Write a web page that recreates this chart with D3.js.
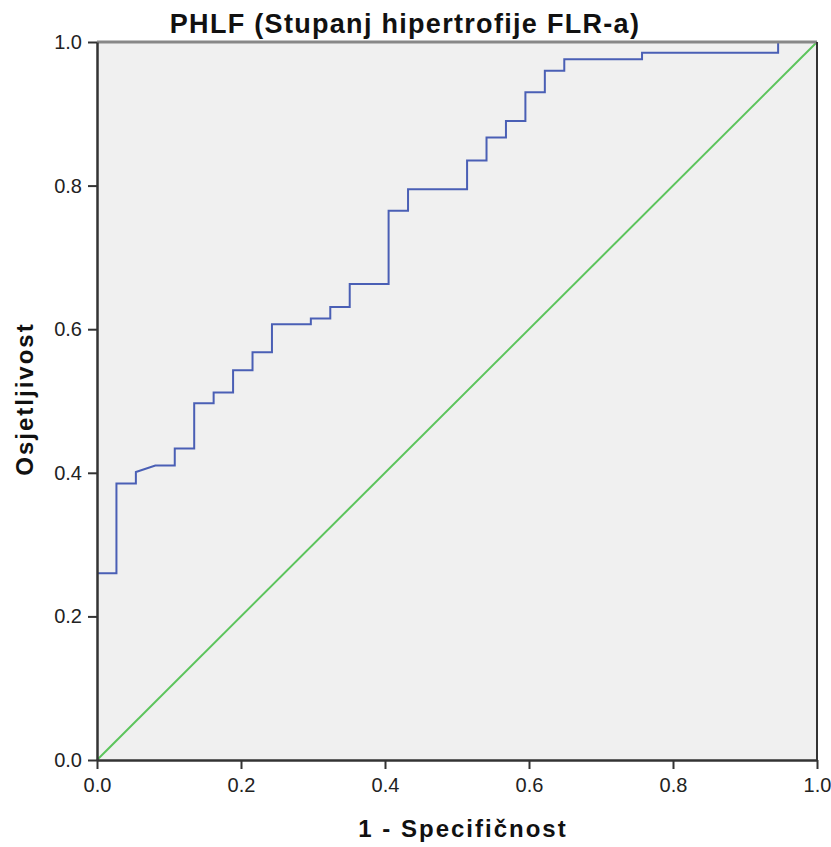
<!DOCTYPE html>
<html><head><meta charset="utf-8">
<script src="https://cdn.jsdelivr.net/npm/d3@7"></script>
<style>body{margin:0;background:#fff}</style>
</head><body>
<svg id="c" width="831" height="847"></svg>
<script>
const title = "PHLF (Stupanj hipertrofije FLR-a)";
const xTitle = "1 - Specifičnost";
const yTitle = "Osjetljivost";
const tickValues = [0, 0.2, 0.4, 0.6, 0.8, 1.0];
// ROC curve vertices (1 - specificity, sensitivity)
const rocFpr  = [0, 0.027, 0.027, 0.054, 0.054, 0.081, 0.108, 0.108, 0.135, 0.135, 0.162, 0.162, 0.189, 0.189, 0.216, 0.216, 0.243, 0.243, 0.297, 0.297, 0.324, 0.324, 0.351, 0.351, 0.405, 0.405, 0.432, 0.432, 0.514, 0.514, 0.541, 0.541, 0.568, 0.568, 0.595, 0.595, 0.622, 0.622, 0.649, 0.649, 0.757, 0.757, 0.946, 0.946, 1.0];
const rocSens = [0.260, 0.260, 0.385, 0.385, 0.401, 0.410, 0.410, 0.434, 0.434, 0.497, 0.497, 0.512, 0.512, 0.543, 0.543, 0.568, 0.568, 0.607, 0.607, 0.615, 0.615, 0.631, 0.631, 0.663, 0.663, 0.765, 0.765, 0.795, 0.795, 0.835, 0.835, 0.867, 0.867, 0.890, 0.890, 0.930, 0.930, 0.960, 0.960, 0.976, 0.976, 0.985, 0.985, 1.0, 1.0];
const refFpr = [0, 1];
const refSens = [0, 1];

const svg = d3.select("#c");
const L = 97, R = 817, T = 42, B = 760;
const x = d3.scaleLinear().domain([0,1]).range([L,R]);
const y = d3.scaleLinear().domain([0,1]).range([B,T]);

svg.append("rect").attr("x",L).attr("y",T).attr("width",R-L).attr("height",B-T).attr("fill","#f0f0f0");

const line = d3.line().x(d=>x(d[0])).y(d=>y(d[1]));
svg.append("path").datum(d3.zip(refFpr, refSens)).attr("d", line)
  .attr("fill","none").attr("stroke","#5cc45c").attr("stroke-width",2);
svg.append("path").datum(d3.zip(rocFpr, rocSens)).attr("d", line)
  .attr("fill","none").attr("stroke","#4a5fb5").attr("stroke-width",2);

// frame
svg.append("line").attr("x1",L).attr("x2",R).attr("y1",T).attr("y2",T).attr("stroke","#888").attr("stroke-width",3);
svg.append("line").attr("x1",R).attr("x2",R).attr("y1",T).attr("y2",B).attr("stroke","#333").attr("stroke-width",2);

const tickFont = "'Liberation Sans Narrow','Arial Narrow',Arial,sans-serif";
const xa = svg.append("g").attr("transform",`translate(0,${B})`)
  .call(d3.axisBottom(x).tickValues(tickValues).tickFormat(d3.format(".1f")).tickSize(9).tickSizeOuter(0).tickPadding(9));
const ya = svg.append("g").attr("transform",`translate(${L},0)`)
  .call(d3.axisLeft(y).tickValues(tickValues).tickFormat(d3.format(".1f")).tickSize(9).tickSizeOuter(0).tickPadding(6));
[xa, ya].forEach(g=>{
  g.select(".domain").attr("stroke","#333").attr("stroke-width",2.5);
  g.selectAll(".tick line").attr("stroke","#333").attr("stroke-width",2);
  g.selectAll(".tick text").attr("font-family",tickFont).attr("font-size",20).attr("fill","#222");
});

svg.append("text").attr("x",405).attr("y",33).attr("text-anchor","middle")
  .attr("font-family","'Liberation Sans',Arial,sans-serif").attr("font-weight","bold").attr("font-size",27)
  .attr("letter-spacing",1.3).attr("fill","#111").text(title);
svg.append("text").attr("x",463).attr("y",837).attr("text-anchor","middle")
  .attr("font-family","'Liberation Sans',Arial,sans-serif").attr("font-weight","bold").attr("font-size",24)
  .attr("letter-spacing",2).attr("fill","#111").text(xTitle);
svg.append("text").attr("transform","translate(33,399) rotate(-90)").attr("text-anchor","middle")
  .attr("font-family","'Liberation Sans',Arial,sans-serif").attr("font-weight","bold").attr("font-size",24)
  .attr("letter-spacing",2).attr("fill","#111").text(yTitle);
</script>
</body></html>
